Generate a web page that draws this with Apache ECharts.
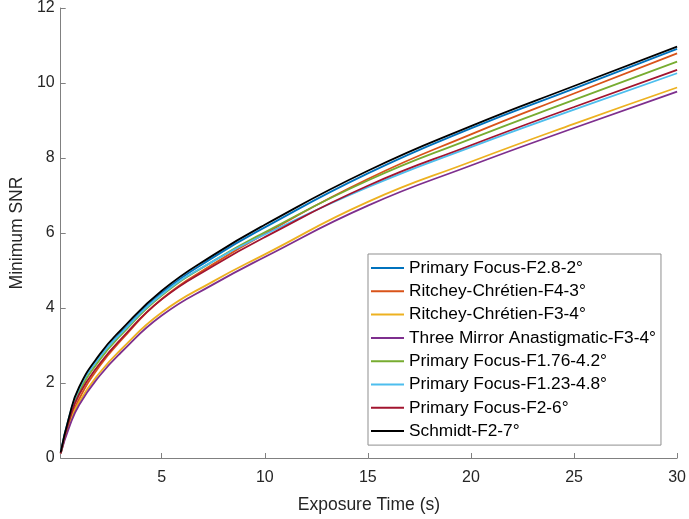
<!DOCTYPE html>
<html>
<head>
<meta charset="utf-8">
<script src="https://cdn.jsdelivr.net/npm/echarts@6/dist/echarts.min.js"></script>
<style>
html,body{margin:0;padding:0;background:#fff;}
#chart{width:689px;height:519px;}
</style>
</head>
<body>
<div id="chart"></div>
<script>
const exposureTimes = [0.1, 0.5, 1, 2, 3, 5, 7.5, 10, 15, 20, 25, 30];
const seriesNames = [
  'Primary Focus-F2.8-2°',
  'Ritchey-Chrétien-F4-3°',
  'Ritchey-Chrétien-F3-4°',
  'Three Mirror Anastigmatic-F3-4°',
  'Primary Focus-F1.76-4.2°',
  'Primary Focus-F1.23-4.8°',
  'Primary Focus-F2-6°',
  'Schmidt-F2-7°'
];
const snrPF28 =   [0.15, 1.05, 1.85, 2.70, 3.33, 4.40, 5.35, 6.15, 7.59, 8.79, 9.85, 10.91];
const snrRC4 =    [0.12, 0.90, 1.58, 2.46, 3.12, 4.24, 5.17, 5.98, 7.44, 8.63, 9.72, 10.79];
const snrRC3 =    [0.12, 0.88, 1.50, 2.28, 2.88, 3.88, 4.71, 5.43, 6.83, 7.90, 8.91, 9.88];
const snrTMA =    [0.12, 0.80, 1.42, 2.20, 2.80, 3.80, 4.63, 5.36, 6.73, 7.80, 8.80, 9.77];
const snrPF176 =  [0.14, 1.00, 1.76, 2.62, 3.26, 4.33, 5.25, 6.02, 7.40, 8.51, 9.55, 10.57];
const snrPF123 =  [0.15, 1.08, 1.86, 2.70, 3.31, 4.36, 5.25, 5.96, 7.22, 8.29, 9.29, 10.26];
const snrPF2 =    [0.13, 0.98, 1.70, 2.52, 3.16, 4.23, 5.12, 5.89, 7.26, 8.34, 9.36, 10.35];
const snrSchmidt =[0.15, 1.08, 1.90, 2.77, 3.40, 4.46, 5.41, 6.22, 7.66, 8.85, 9.92, 10.97];
const xTickValues = [5, 10, 15, 20, 25, 30];

const allSeries = [snrPF28, snrRC4, snrRC3, snrTMA, snrPF176, snrPF123, snrPF2, snrSchmidt];
const colors = ['#0072BD', '#D95319', '#EDB120', '#7E2F8E', '#77AC30', '#4DBEEE', '#A2142F', '#000000'];

const chart = echarts.init(document.getElementById('chart'));
const textColor = '#262626';
const axisColor = '#808080';
chart.setOption({
  animation: false,
  backgroundColor: '#ffffff',
  color: colors,
  grid: { left: 57.7, right: 10, top: 8, bottom: 61, containLabel: false },
  xAxis: {
    type: 'value', min: 0.1, max: 30,
    name: 'Exposure Time (s)', nameLocation: 'middle', nameGap: 38,
    nameTextStyle: { color: textColor, fontSize: 17.5, fontFamily: 'Liberation Sans, Arial, sans-serif' },
    axisLine: { show: true, lineStyle: { color: axisColor, width: 1 } },
    axisTick: { show: true, inside: true, length: 5, customValues: xTickValues, lineStyle: { color: axisColor } },
    axisLabel: { customValues: xTickValues, color: textColor, fontSize: 16, margin: 12, fontFamily: 'Liberation Sans, Arial, sans-serif' },
    splitLine: { show: false }
  },
  yAxis: {
    type: 'value', min: 0, max: 12, interval: 2,
    name: 'Minimum SNR', nameLocation: 'middle', nameGap: 26,
    nameTextStyle: { color: textColor, fontSize: 17.5, fontFamily: 'Liberation Sans, Arial, sans-serif' },
    axisLine: { show: true, lineStyle: { color: axisColor, width: 1 } },
    axisTick: { show: true, inside: true, length: 5, lineStyle: { color: axisColor } },
    axisLabel: { color: textColor, fontSize: 16, margin: 6, fontFamily: 'Liberation Sans, Arial, sans-serif' },
    splitLine: { show: false }
  },
  legend: {
    orient: 'vertical', left: 368, top: 254,
    backgroundColor: '#ffffff', borderColor: '#8f8f8f', borderWidth: 1, borderRadius: 0,
    padding: [4, 5, 4, 3],
    itemWidth: 33, itemHeight: 2, itemGap: 3.3,
    icon: 'rect',
    textStyle: { color: '#000000', fontSize: 17.3, lineHeight: 20, fontFamily: 'Liberation Sans, Arial, sans-serif' },
    data: seriesNames
  },
  series: allSeries.map((vals, i) => ({
    name: seriesNames[i],
    type: 'line',
    data: exposureTimes.map((t, j) => [t, vals[j]]),
    showSymbol: false,
    smooth: 0.5,
    lineStyle: { width: 1.8, color: colors[i] },
    itemStyle: { color: colors[i] },
    emphasis: { disabled: true },
    z: 2 + i
  }))
});
</script>
</body>
</html>
